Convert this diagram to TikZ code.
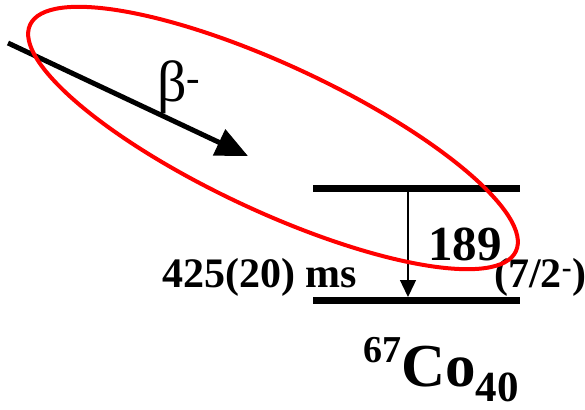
\documentclass[tikz,border=0pt]{standalone}
\usepackage{fontspec}
\setmainfont{Liberation Serif}
\usetikzlibrary{arrows.meta}

\begin{document}
\begin{tikzpicture}[x=1pt, y=-1pt, every node/.style={inner sep=0pt, anchor=base west},
	lbl/.style={font=\fontsize{42}{42}\selectfont\bfseries},
	level/.style={line width=7pt},
	>={Triangle[length=17pt, width=16pt]}]
	\useasboundingbox (0,0) rectangle (585,409);
	% the two levels of 67Co
	\coordinate (up0) at (313,188); \coordinate (up1) at (520,188);
	\coordinate (lo0) at (313,300); \coordinate (lo1) at (520,300);
	\draw[level] (up0) -- (up1);
	\draw[level] (lo0) -- (lo1);
	\coordinate (gfrom) at (408,188);
	\coordinate (gto) at (408,297);
	\draw[->, line width=1.4pt] (gfrom) -- (gto);
	% beta feeding
	\coordinate (bstart) at (8,43);
	\coordinate (bstop) at (248,156);
	\draw[-{Triangle[length=32pt, width=28pt]}, line width=5pt] (bstart) -- (bstop);
	\node[font=\fontsize{58}{58}\selectfont] (beta) at (157,101) {β\textsuperscript{-}};
	% labels
	\node[font=\fontsize{49}{49}\selectfont\bfseries] (egam) at (428,260) {189};
	\node[lbl] (thalf) at (162,287) {425(20) ms};
	\node[lbl] (spin) at (494,287) {(7/2\textsuperscript{-})};
	\node[font=\bfseries] (nucl) at (363,386) {\raisebox{24pt}{\fontsize{38}{38}\selectfont 67}\fontsize{61}{61}\selectfont Co\raisebox{-15pt}{\fontsize{43}{43}\selectfont 40}};
	% highlight
	\draw[red, line width=4pt, rotate around={-25:(273,138)}] (273,138) ellipse [x radius=268pt, y radius=73pt];
\end{tikzpicture}
\end{document}
